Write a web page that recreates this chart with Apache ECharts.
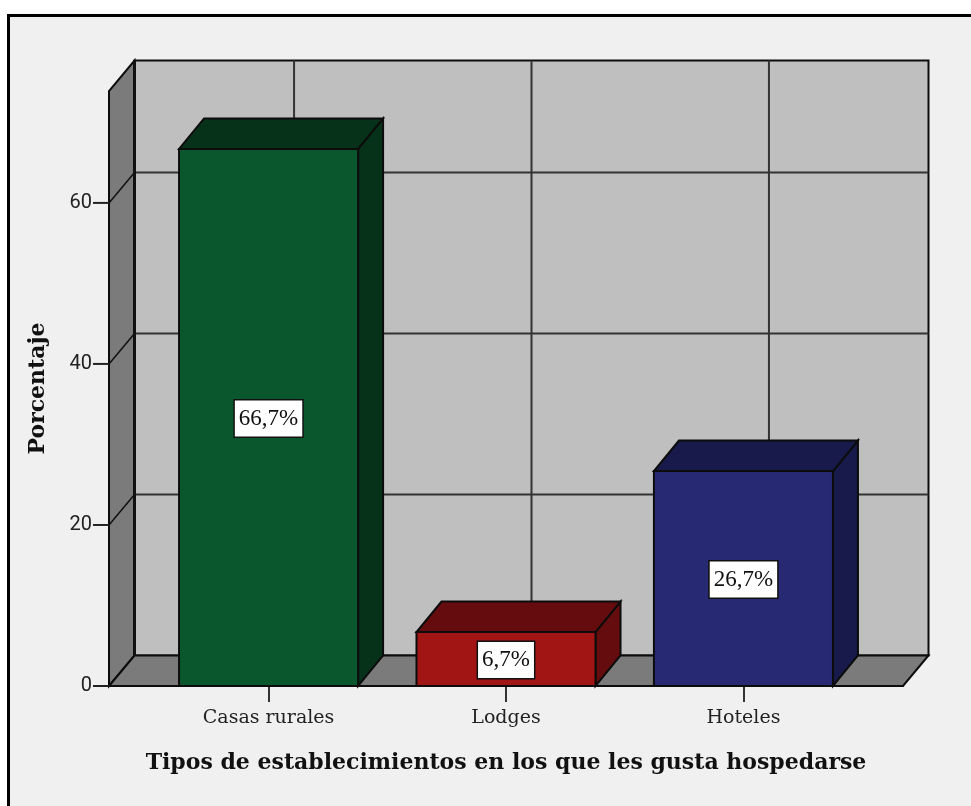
<!DOCTYPE html>
<html>
<head>
<meta charset="utf-8">
<style>html,body{margin:0;padding:0;background:#fff}#c{width:971px;height:806px}</style>
<script src="https://cdn.jsdelivr.net/npm/echarts@6/dist/echarts.min.js"></script>
</head>
<body>
<div id="c"></div>
<script>
const categories = ['Casas rurales', 'Lodges', 'Hoteles'];
const percentages = [66.7, 6.7, 26.7];
const dataLabels = ['66,7%', '6,7%', '26,7%'];
const yTicks = [0, 20, 40, 60];
const yAxisTitle = 'Porcentaje';
const xAxisTitle = 'Tipos de establecimientos en los que les gusta hospedarse';

const frontColors = ['#0b572d', '#a11515', '#272a73'];
const sideColors = ['#07321a', '#640c0e', '#171a4a'];
const X_MIN = -0.672, X_MAX = 2.672, Y_MAX = 73.9;
const BAR_WIDTH = 0.754, DX = 25.5, DY = 30.5, BAR_DX = 25, TICK = 16;
const EDGE = '#0c0c0c';

const poly = (points, fill, lw) => ({
  type: 'polygon', shape: { points },
  style: { fill, stroke: EDGE, lineWidth: lw, lineJoin: 'miter' }
});
const seg = (a, b, color, lw) => ({
  type: 'line', shape: { x1: a[0], y1: a[1], x2: b[0], y2: b[1] },
  style: { stroke: color, lineWidth: lw }
});

function renderWalls(params, api) {
  const bl = api.coord([X_MIN, 0]), br = api.coord([X_MAX, 0]), tl = api.coord([X_MIN, Y_MAX]);
  const back = p => [p[0] + DX, p[1] - DY];
  const children = [
    poly([back(bl), back(br), back([br[0], tl[1]]), back(tl)], '#bfbfbf', 2),
    poly([bl, back(bl), back(tl), tl], '#7b7b7b', 2),
    poly([bl, br, back(br), back(bl)], '#7b7b7b', 2)
  ];
  yTicks.forEach(v => {
    const p = api.coord([X_MIN, v]);
    children.push(seg([p[0] - TICK, p[1]], p, '#222', 2));
    if (v === 0) return;
    children.push(seg(back(p), back([br[0], p[1]]), '#333', 2));
    children.push(seg(p, back(p), '#111', 1.5));
  });
  categories.forEach((c, i) => {
    const p = api.coord([i, 0]), t = api.coord([i, Y_MAX]);
    children.push(seg(back(p), back(t), '#333', 2));
  });
  children.push(seg(back(bl), back(tl), '#111', 3));
  return { type: 'group', children };
}

function renderBar(params, api) {
  const i = api.value(0), v = api.value(1);
  const l = api.coord([i - BAR_WIDTH / 2, v]), r = api.coord([i + BAR_WIDTH / 2, 0]);
  const x0 = l[0], x1 = r[0], yt = l[1], yb = r[1];
  const mid = api.coord([i, v / 2]);
  return {
    type: 'group',
    children: [
      poly([[x1, yt], [x1, yb], [x1 + BAR_DX, yb - DY], [x1 + BAR_DX, yt - DY]], sideColors[i], 2),
      poly([[x0, yt], [x1, yt], [x1 + BAR_DX, yt - DY], [x0 + BAR_DX, yt - DY]], sideColors[i], 2),
      poly([[x0, yt], [x1, yt], [x1, yb], [x0, yb]], frontColors[i], 2),
      {
        type: 'text', x: mid[0], y: mid[1] + 1,
        style: {
          text: dataLabels[i], align: 'center', verticalAlign: 'middle',
          font: '23px "Liberation Serif"', fill: '#111',
          backgroundColor: '#fff', borderColor: '#111', borderWidth: 1.5, padding: [7, 4, 6, 4]
        }
      }
    ]
  };
}

const chart = echarts.init(document.getElementById('c'));
chart.setOption({
  animation: false,
  backgroundColor: 'transparent',
  graphic: [{
    type: 'rect', z: -1, silent: true,
    shape: { x: 8.5, y: 15.5, width: 980, height: 810 },
    style: { fill: '#f0f0f0', stroke: '#000', lineWidth: 3 }
  }],
  grid: { left: 109, right: 68, top: 91, bottom: 120, containLabel: false },
  xAxis: {
    type: 'value', min: X_MIN, max: X_MAX, splitLine: { show: false },
    name: xAxisTitle, nameLocation: 'middle', nameGap: 66,
    nameTextStyle: { fontFamily: 'DejaVu Serif', fontWeight: 'bold', fontSize: 22, color: '#111' },
    axisLine: { show: true, lineStyle: { color: '#111', width: 2 } },
    axisTick: { show: true, length: 16, customValues: [0, 1, 2], lineStyle: { color: '#333', width: 2 } },
    axisLabel: {
      customValues: [0, 1, 2], margin: 23, formatter: v => categories[Math.round(v)],
      fontFamily: 'DejaVu Serif', fontSize: 19, color: '#222'
    }
  },
  yAxis: {
    type: 'value', min: 0, max: Y_MAX, splitLine: { show: false },
    name: yAxisTitle, nameLocation: 'middle', nameGap: 60,
    nameTextStyle: { fontFamily: 'DejaVu Serif', fontWeight: 'bold', fontSize: 22, color: '#111' },
    axisLine: { show: true, lineStyle: { color: '#111', width: 2 } },
    axisTick: { show: false },
    axisLabel: { customValues: yTicks, margin: 17, fontFamily: 'Roboto', fontSize: 20, color: '#222' }
  },
  series: [
    { type: 'custom', clip: false, z: 1, silent: true, renderItem: renderWalls, data: [[0, 0]], encode: { x: 0, y: 1 } },
    { type: 'custom', clip: false, z: 3, renderItem: renderBar, data: percentages.map((v, i) => [i, v]), encode: { x: 0, y: 1 } }
  ]
});
</script>
</body>
</html>
